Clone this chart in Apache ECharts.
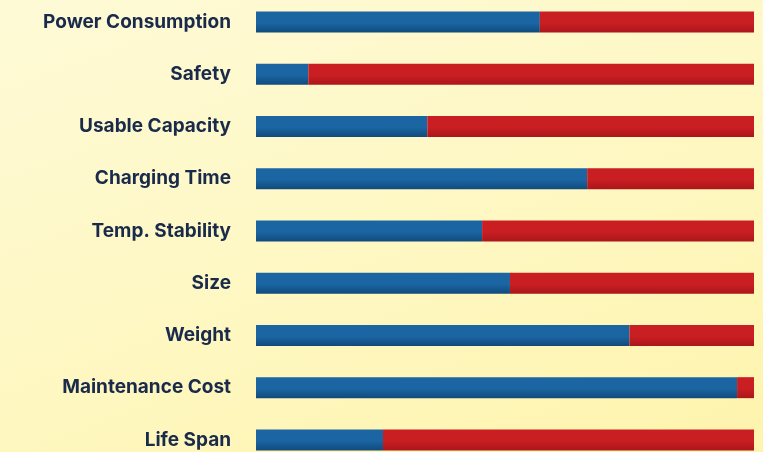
<!DOCTYPE html>
<html>
<head>
<meta charset="utf-8">
<script src="https://cdn.jsdelivr.net/npm/echarts@6/dist/echarts.min.js"></script>
<style>
html,body{margin:0;padding:0;}
#c{width:763px;height:452px;background:linear-gradient(160deg,#fefad6 0%,#fef8c6 45%,#fef4ad 100%);}
</style>
</head>
<body>
<div id="c"></div>
<script>
const categories = ["Power Consumption","Safety","Usable Capacity","Charging Time","Temp. Stability","Size","Weight","Maintenance Cost","Life Span"];
const blueValues = [57, 10.5, 34.4, 66.5, 45.4, 51, 75, 96.6, 25.5];
const redValues  = [43, 89.5, 65.6, 33.5, 54.6, 49, 25, 3.4, 74.5];

const chart = echarts.init(document.getElementById('c'), null, {renderer:'canvas'});
function grad(c1, c2){
  return new echarts.graphic.LinearGradient(0,0,0,1,[
    {offset:0,color:c1},{offset:0.55,color:c1},{offset:1,color:c2}
  ]);
}
chart.setOption({
  backgroundColor:'transparent',
  animation:false,
  grid:{left:256, right:9, top:-4, bottom:-14, containLabel:false, outerBoundsMode:'none'},
  xAxis:{type:'value', min:0, max:100, show:false},
  yAxis:{
    type:'category', data:categories, inverse:true,
    axisLine:{show:false}, axisTick:{show:false}, splitLine:{show:false},
    axisLabel:{
      color:'#192a4b', fontSize:19, fontWeight:'bold',
      fontFamily:'Inter, "Open Sans", sans-serif', margin:25
    }
  },
  series:[
    {type:'bar', stack:'a', data:blueValues, barWidth:21,
     itemStyle:{color:grad('#1a65a2','#114a7c')}},
    {type:'bar', stack:'a', data:redValues, barWidth:21,
     itemStyle:{color:grad('#c91e22','#aa161b')}}
  ]
});
</script>
</body>
</html>
